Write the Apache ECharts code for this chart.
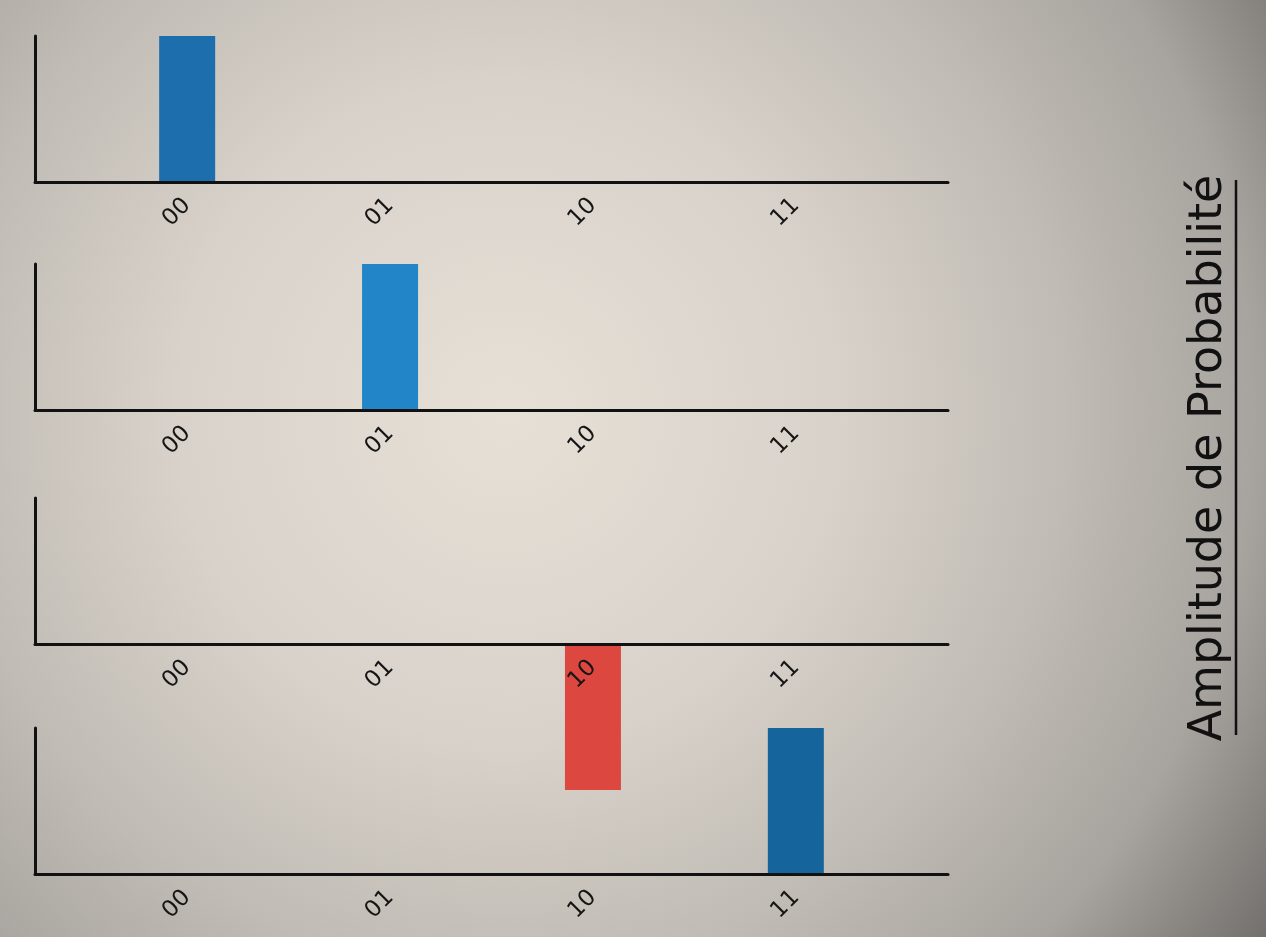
<!DOCTYPE html>
<html>
<head>
<meta charset="utf-8">
<title>Amplitude de Probabilité</title>
<script src="https://cdn.jsdelivr.net/npm/echarts@6/dist/echarts.min.js"></script>
<style>
  html, body { margin: 0; padding: 0; width: 100%; height: 100%; overflow: hidden; }
  #chart { width: 1266px; height: 937px; }
</style>
</head>
<body>
<div id="chart"></div>
<script>
// états de base
const categories = ['00', '01', '10', '11']
// une amplitude par panneau (de haut en bas)
const panel1 = [1, 0, 0, 0]
const panel2 = [0, 1, 0, 0]
const panel3 = [0, 0, -1, 0]
const panel4 = [0, 0, 0, 1]
const panels = [panel1, panel2, panel3, panel4]
const panelColors = ['#1d6ead', '#2285c8', '#16669f', '#16649c']
const negColor = '#dc4840'
const titleText = 'Amplitude de Probabilité'

const tops = [36, 264, 498, 728]
const gridH = 146
const font = 'DejaVu Sans'

let myChart = echarts.init(document.getElementById('chart'))

const grid = [], xAxis = [], yAxis = [], series = []
panels.forEach((vals, i) => {
    grid.push({ left: 35, right: 318, top: tops[i], height: gridH })
    xAxis.push({
        type: 'value', gridIndex: i, min: -0.75, max: 3.75,
        z: 5,
        splitLine: { show: false },
        axisTick: { show: false },
        axisLine: { show: true, onZero: false, lineStyle: { color: '#111', width: 3 } },
        axisLabel: {
            customValues: [0, 1, 2, 3],
            formatter: v => categories[Math.round(v)],
            rotate: 45, margin: 20,
            color: '#151515', fontSize: 23, fontFamily: font
        }
    })
    yAxis.push({
        type: 'value', gridIndex: i, min: 0, max: 1,
        splitLine: { show: false },
        axisTick: { show: false },
        axisLabel: { show: false },
        axisLine: { show: true, onZero: false, lineStyle: { color: '#111', width: 3 } }
    })
    series.push({
        type: 'bar', xAxisIndex: i, yAxisIndex: i,
        barWidth: 56, clip: false,
        data: vals.map((v, k) => ({
            value: [k, v],
            itemStyle: { color: v < 0 ? negColor : panelColors[i] }
        }))
    })
})

const option = {
    backgroundColor: {
        type: 'radial', x: 0.4, y: 0.44, r: 1.0,
        colorStops: [
            { offset: 0, color: '#e6e0d7' },
            { offset: 0.35, color: '#d8d2ca' },
            { offset: 0.6, color: '#c0bbb4' },
            { offset: 0.8, color: '#a7a39e' },
            { offset: 1, color: '#6e6c69' }
        ]
    },
    animation: false,
    grid, xAxis, yAxis, series,
    graphic: [
        {
            type: 'text', x: 1209, y: 458, rotation: Math.PI / 2,
            style: {
                text: titleText, fill: '#111', font: '46px "' + font + '"',
                textAlign: 'center', textVerticalAlign: 'middle'
            }
        },
        {
            type: 'line',
            shape: { x1: 1236, y1: 180, x2: 1236, y2: 735 },
            style: { stroke: '#111', lineWidth: 2.5 }
        }
    ]
}
myChart.setOption(option)
</script>
</body>
</html>
